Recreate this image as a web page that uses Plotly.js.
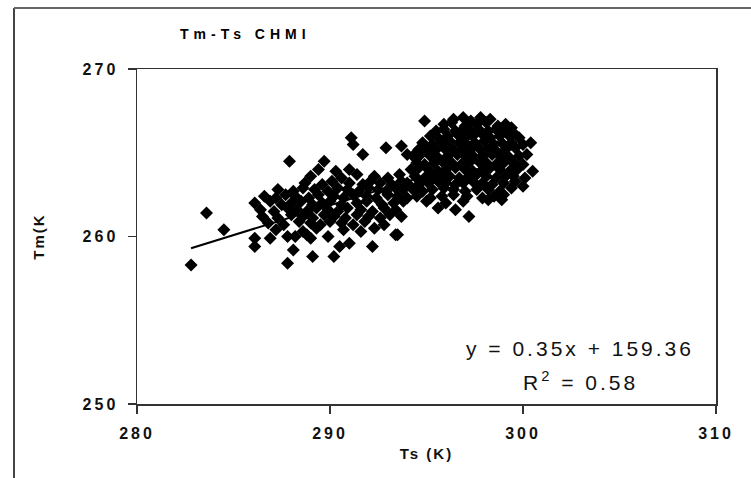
<!DOCTYPE html>
<html>
<head>
<meta charset="utf-8">
<script src="https://cdn.plot.ly/plotly-3.0.1.min.js"></script>
<style>
  html, body { margin: 0; padding: 0; background: #fff; }
  #chart { width: 751px; height: 478px; }
  .xtick text, .ytick text { letter-spacing: 3px; }
  .gtitle { letter-spacing: 5px; }
  .xtitle, .ytitle { letter-spacing: 2px; }
  .annotation-text { letter-spacing: 3px; }
</style>
</head>
<body>
<div id="chart"></div>
<script>
// ---- Data ----
// Ts (K) values of the scatter points
const tsValues = [
  // dense cluster, warm end
  296.4, 296.9, 297.3, 297.8, 298.3,
  295.9, 296.3, 297.0, 297.6, 298.1, 298.7, 299.1, 294.9, 299.4,
  295.5, 295.9, 296.5, 296.9, 297.3, 297.7, 298.2, 298.6, 299.0, 299.5,
  295.2, 295.6, 296.1, 296.6, 297.0, 297.4, 297.9, 298.3, 298.8, 299.3, 299.8,
  294.8, 295.3, 295.8, 296.2, 296.7, 297.1, 297.5, 298.0, 298.5, 298.9, 299.4, 300.0, 300.4,
  294.6, 295.0, 295.5, 295.9, 296.4, 296.8, 297.3, 297.7, 298.2, 298.6, 299.1, 299.6,
  294.3, 294.7, 295.2, 295.6, 296.1, 296.6, 297.0, 297.5, 297.9, 298.4, 298.8, 299.3, 299.8, 300.2,
  294.5, 294.9, 295.4, 295.8, 296.3, 296.8, 297.2, 297.7, 298.1, 298.6, 299.0, 299.5, 300.0,
  294.2, 294.6, 295.1, 295.6, 296.0, 296.5, 297.0, 297.4, 297.9, 298.3, 298.8, 299.3, 299.7, 300.5,
  294.4, 294.9, 295.3, 295.8, 296.2, 296.7, 297.2, 297.6, 298.1, 298.6, 299.1, 299.5, 300.1,
  294.0, 294.6, 295.1, 295.6, 296.0, 296.5, 296.9, 297.4, 297.9, 298.4, 299.0, 299.6, 300.0,
  294.3, 294.8, 295.3, 295.9, 296.4, 297.0, 297.6, 298.2, 298.8, 299.4,
  294.5, 295.2, 295.8, 296.4, 297.1, 297.9, 298.5, 299.0,
  295.0, 296.0, 296.9, 298.2, 298.9, 295.6, 296.5, 297.2,
  // band, middle range
  287.9, 289.7, 289.4, 290.3, 291.0,
  289.0, 290.6, 291.4, 292.3, 293.0, 293.6,
  288.7, 289.6, 290.1, 291.0, 291.7, 292.1, 292.6, 293.2, 293.7,
  287.3, 288.1, 288.6, 289.2, 289.9, 290.4, 290.9, 291.5, 292.0, 292.5, 292.9, 293.4, 293.8,
  286.6, 287.2, 287.7, 288.2, 288.9, 289.4, 290.2, 290.7, 291.2, 291.9, 292.4, 293.0, 293.5, 294.0,
  286.1, 286.9, 287.5, 288.0, 288.5, 289.1, 289.6, 290.0, 290.6, 291.4, 291.9, 292.7, 293.3, 293.8,
  286.4, 287.1, 287.8, 288.3, 288.8, 289.3, 289.9, 290.4, 290.9, 291.6, 292.2, 292.8, 293.4,
  286.5, 287.3, 288.0, 288.6, 289.1, 289.7, 290.2, 290.8, 291.4, 292.0, 292.6, 293.1, 293.7,
  286.8, 287.6, 288.4, 289.0, 289.5, 290.0, 290.6, 291.2, 291.8, 292.8,
  287.2, 288.6, 289.3, 290.7, 291.6, 292.3,
  286.1, 286.9, 287.8, 288.2, 288.8, 289.9, 293.4, 293.5,
  286.1, 289.0, 290.5, 291.0, 292.2, 288.1, 289.1, 290.2, 287.8,
  // isolated points
  282.8, 283.6, 284.5, 291.1, 291.2, 291.7, 292.9, 293.7, 294.0, 294.4
];
// Tm (K) values, same order as tsValues
const tmValues = [
  267.0, 267.1, 266.9, 267.1, 267.0,
  266.7, 266.8, 266.6, 266.7, 266.8, 266.6, 266.7, 266.9, 266.5,
  266.3, 266.4, 266.3, 266.4, 266.3, 266.4, 266.3, 266.4, 266.3, 266.2,
  266.0, 265.9, 266.0, 266.1, 265.9, 266.0, 266.1, 265.9, 266.0, 266.0, 265.9,
  265.6, 265.5, 265.6, 265.7, 265.6, 265.5, 265.6, 265.7, 265.5, 265.6, 265.6, 265.5, 265.6,
  265.2, 265.1, 265.2, 265.3, 265.2, 265.1, 265.2, 265.3, 265.2, 265.1, 265.2, 265.3,
  264.8, 264.9, 264.8, 264.7, 264.8, 264.9, 264.8, 264.7, 264.8, 264.9, 264.8, 264.7, 264.8, 264.9,
  264.4, 264.3, 264.4, 264.5, 264.4, 264.3, 264.4, 264.5, 264.4, 264.3, 264.4, 264.4, 264.3,
  264.0, 264.1, 264.0, 263.9, 264.0, 264.1, 264.0, 263.9, 264.0, 264.1, 264.0, 263.9, 264.0, 263.9,
  263.6, 263.5, 263.6, 263.7, 263.6, 263.5, 263.6, 263.7, 263.6, 263.5, 263.6, 263.6, 263.5,
  263.2, 263.1, 263.2, 263.3, 263.2, 263.1, 263.2, 263.3, 263.2, 263.1, 263.2, 263.3, 263.0,
  262.8, 262.7, 262.8, 262.9, 262.8, 262.7, 262.8, 262.8, 262.7, 262.9,
  262.4, 262.3, 262.4, 262.5, 262.4, 262.3, 262.4, 262.5,
  262.1, 262.0, 262.1, 262.2, 262.2, 261.7, 261.6, 261.2,
  264.5, 264.5, 264.0, 263.9, 264.0,
  263.6, 263.5, 263.7, 263.6, 263.5, 263.7,
  263.2, 263.1, 263.3, 263.2, 263.1, 263.3, 263.2, 263.1, 263.3,
  262.8, 262.7, 262.9, 262.8, 262.7, 262.9, 262.8, 262.7, 262.9, 262.8, 262.7, 262.9, 262.8,
  262.4, 262.3, 262.5, 262.4, 262.3, 262.5, 262.4, 262.3, 262.5, 262.4, 262.3, 262.5, 262.4, 262.3,
  262.0, 262.1, 261.9, 262.0, 262.1, 261.9, 262.0, 262.1, 261.9, 262.0, 262.1, 261.9, 262.0, 262.1,
  261.6, 261.5, 261.7, 261.6, 261.5, 261.7, 261.6, 261.5, 261.7, 261.6, 261.5, 261.7, 261.6,
  261.2, 261.1, 261.3, 261.2, 261.1, 261.3, 261.2, 261.1, 261.3, 261.2, 261.1, 261.3, 261.2,
  260.8, 260.7, 260.9, 260.8, 260.7, 260.9, 260.8, 260.7, 260.9, 260.7,
  260.4, 260.3, 260.5, 260.4, 260.3, 260.5,
  259.9, 259.9, 260.0, 260.0, 260.1, 260.0, 260.1, 260.1,
  259.4, 259.9, 259.4, 259.6, 259.4, 259.2, 258.8, 258.8, 258.4,
  258.3, 261.4, 260.4, 265.9, 265.5, 264.9, 265.3, 265.4, 264.9, 264.8
];
// Linear trend line ends as drawn in the picture
const trendTs = [282.8, 300.5];
const trendTm = [259.3, 265.6];
// Axis ticks
const xTicks = [280, 290, 300, 310];
const yTicks = [250, 260, 270];

const equationLine = 'y = 0.35x + 159.36';
const r2Line = 'R<sup>2</sup> = 0.58';

// ---- Layout geometry ----
const W = 751, H = 478;
const M = { l: 137, r: 35, t: 69, b: 74 };
const pw = W - M.l - M.r, ph = H - M.t - M.b;
const px = v => (v - M.l) / pw;           // pixel x -> paper x
const py = v => (H - M.b - v) / ph;        // pixel y -> paper y

const font = 'Liberation Sans, Arial, sans-serif';

const traces = [
  {
    type: 'scatter', mode: 'markers',
    x: tsValues, y: tmValues,
    marker: { symbol: 'diamond', size: 10, color: '#000', line: { width: 0 } },
    hoverinfo: 'skip', showlegend: false
  },
  {
    type: 'scatter', mode: 'lines',
    x: trendTs, y: trendTm,
    line: { color: '#000', width: 2 },
    hoverinfo: 'skip', showlegend: false
  }
];

const layout = {
  width: W, height: H,
  margin: M,
  paper_bgcolor: '#fff', plot_bgcolor: '#fff',
  showlegend: false,
  title: {
    text: '<b>Tm-Ts CHMI</b>',
    font: { family: font, size: 14, color: '#000' },
    xref: 'container', x: 180 / W, xanchor: 'left',
    yref: 'container', y: 1 - 34 / H, yanchor: 'middle'
  },
  xaxis: {
    range: [280, 310], tickvals: xTicks, ticktext: xTicks.map(String),
    showgrid: false, zeroline: false,
    showline: true, linecolor: '#333', linewidth: 1.5, mirror: true,
    ticks: 'outside', ticklen: 8, tickwidth: 1.5, tickcolor: '#333',
    ticklabelstandoff: 6,
    tickfont: { family: font, size: 16, color: '#111', weight: 'bold' },
    title: { text: '<b>Ts (K)</b>', font: { family: font, size: 15, color: '#111' }, standoff: 8 }
  },
  yaxis: {
    range: [250, 270], tickvals: yTicks, ticktext: yTicks.map(String),
    showgrid: false, zeroline: false,
    showline: true, linecolor: '#333', linewidth: 1.5, mirror: true,
    ticks: 'outside', ticklen: 8, tickwidth: 1.5, tickcolor: '#333',
    ticklabelstandoff: 6,
    tickfont: { family: font, size: 16, color: '#111', weight: 'bold' },
    title: { text: '<b>Tm(K</b>', font: { family: font, size: 15, color: '#111' }, standoff: 34 }
  },
  annotations: [
    {
      text: equationLine, showarrow: false,
      xref: 'paper', yref: 'paper',
      x: px(580), y: py(348), xanchor: 'center', yanchor: 'middle',
      font: { family: font, size: 21, color: '#111' }
    },
    {
      text: r2Line, showarrow: false,
      xref: 'paper', yref: 'paper',
      x: px(580), y: py(381), xanchor: 'center', yanchor: 'middle',
      font: { family: font, size: 21, color: '#111' }
    }
  ],
  shapes: [
    // outer chart-area frame (left and top edges visible)
    { type: 'line', xref: 'paper', yref: 'paper', x0: px(14), x1: px(14), y0: py(8), y1: py(490),
      line: { color: '#444', width: 2 } },
    { type: 'line', xref: 'paper', yref: 'paper', x0: px(14), x1: px(760), y0: py(8), y1: py(8),
      line: { color: '#666', width: 2 } }
  ]
};

Plotly.newPlot('chart', traces, layout, { displayModeBar: false, staticPlot: true });
</script>
</body>
</html>
